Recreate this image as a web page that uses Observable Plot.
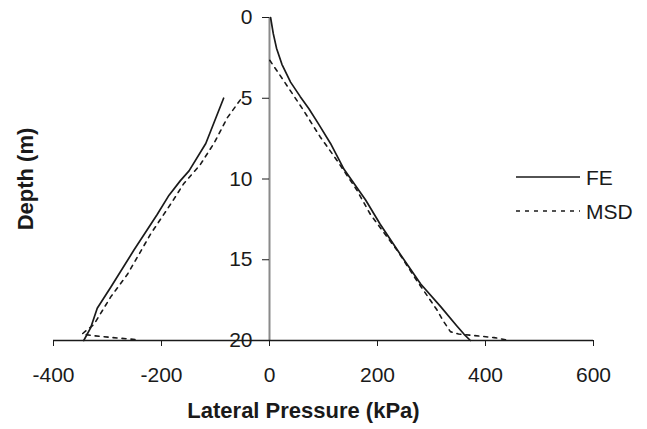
<!DOCTYPE html>
<html>
<head>
<meta charset="utf-8">
<script src="https://cdn.jsdelivr.net/npm/d3@7"></script>
<script src="https://cdn.jsdelivr.net/npm/@observablehq/plot@0.6"></script>
<style>
  html, body { margin: 0; padding: 0; background: #fff; }
  #chart { position: relative; width: 647px; height: 429px; }
</style>
</head>
<body>
<div id="chart"></div>
<script>
// ---- data (pressure in kPa, depth in m) ----
const feActivePressure = [2, 7, 13, 23, 39, 57, 73, 91, 113, 138, 178, 205, 243, 280, 317, 347, 360, 372];
const feActiveDepth    = [0, 1.0, 1.9, 2.9, 4.0, 4.9, 5.65, 6.6, 7.8, 9.4, 11.3, 12.8, 14.7, 16.5, 17.9, 19.1, 19.6, 20];
const msdActivePressure = [0.5, 26, 63, 94, 125, 162, 187, 236, 273, 310, 322, 335, 350, 380, 416, 440];
const msdActiveDepth    = [2.65, 3.9, 5.75, 7.4, 8.85, 10.7, 12.2, 14.4, 16.3, 18.1, 18.8, 19.45, 19.6, 19.7, 19.82, 19.97];
const fePassivePressure = [-85, -118, -149, -165, -186, -208, -251, -294, -319, -331, -344];
const fePassiveDepth    = [5.0, 7.8, 9.5, 10.1, 11.0, 12.2, 14.4, 16.7, 18.0, 19.2, 20];
const msdPassivePressure = [-54, -78, -103, -128, -159, -180, -220, -263, -294, -325, -340, -347, -327, -290, -245];
const msdPassiveDepth    = [5.1, 6.2, 7.8, 9.1, 10.3, 11.4, 13.4, 15.9, 17.3, 19.0, 19.4, 19.6, 19.7, 19.82, 19.95];
const xTicks = [-400, -200, 0, 200, 400, 600];
const xTickLabels = ["-400", "-200", "0", "200", "400", "600"];
const yTicks = [0, 5, 10, 15, 20];
const seriesNames = ["FE", "MSD"];
const xLabel = "Lateral Pressure (kPa)";
const yLabel = "Depth (m)";

const toRows = (xs, ys) => xs.map((x, i) => ({x, y: ys[i]}));
const feA = toRows(feActivePressure, feActiveDepth);
const msdA = toRows(msdActivePressure, msdActiveDepth);
const feP = toRows(fePassivePressure, fePassiveDepth);
const msdP = toRows(msdPassivePressure, msdPassiveDepth);

const W = 647, H = 429, ML = 53, MR = 54, MT = 17, MB = 89;
const xDomain = [-400, 600];
const yAxisDx = (0 - xDomain[0]) / (xDomain[1] - xDomain[0]) * (W - ML - MR);
const ink = "#1a1a1a";
const dash = "4,5";

const plot = Plot.plot({
  width: W, height: H,
  marginLeft: ML, marginRight: MR, marginTop: MT, marginBottom: MB,
  style: {fontFamily: "'Liberation Sans', Arial, sans-serif", fontSize: "21px", color: ink, background: "white"},
  x: {domain: xDomain, ticks: xTicks},
  y: {domain: [0, 20], reverse: true, ticks: yTicks},
  marks: [
    Plot.ruleX([0], {stroke: "#8a8a8a", strokeWidth: 2}),
    Plot.ruleY([20], {stroke: ink, strokeWidth: 1.3}),
    Plot.axisX({ticks: xTicks, tickFormat: d => xTickLabels[xTicks.indexOf(d)], tickSize: 6, tickPadding: 21, label: null, stroke: ink, fill: ink}),
    Plot.axisY({ticks: yTicks, tickFormat: d => String(d), anchor: "left", tickSize: 7, tickPadding: 10, dx: yAxisDx, label: null, stroke: ink, fill: ink}),
    Plot.line(feA, {x: "x", y: "y", stroke: ink, strokeWidth: 1.7}),
    Plot.line(feP, {x: "x", y: "y", stroke: ink, strokeWidth: 1.7}),
    Plot.line(msdA, {x: "x", y: "y", stroke: ink, strokeWidth: 1.6, strokeDasharray: dash}),
    Plot.line(msdP, {x: "x", y: "y", stroke: ink, strokeWidth: 1.6, strokeDasharray: dash}),
    Plot.text([xLabel], {text: d => d, frameAnchor: "bottom", textAnchor: "middle", lineAnchor: "top", dy: 62, dx: -20, fontWeight: "bold", fontSize: 22, fill: ink}),
    Plot.text([yLabel], {text: d => d, frameAnchor: "left", textAnchor: "middle", lineAnchor: "middle", rotate: -90, dx: -28, fontWeight: "bold", fontSize: 22, fill: ink})
  ]
});

// legend
const svg = d3.select(plot);
const leg = svg.append("g").attr("font-family", "'Liberation Sans', Arial, sans-serif").attr("font-size", 21).attr("fill", ink).attr("text-anchor", "start");
const legY = [177, 211];
seriesNames.forEach((name, i) => {
  leg.append("line").attr("x1", 516).attr("x2", 580).attr("y1", legY[i]).attr("y2", legY[i])
    .attr("stroke", ink).attr("stroke-width", i === 1 ? 1.6 : 1.7).attr("stroke-dasharray", i === 1 ? dash : null);
  leg.append("text").attr("x", 586).attr("y", legY[i]).attr("dy", "0.36em").attr("text-anchor", "start").text(name);
});

document.getElementById("chart").appendChild(plot);
</script>
</body>
</html>
